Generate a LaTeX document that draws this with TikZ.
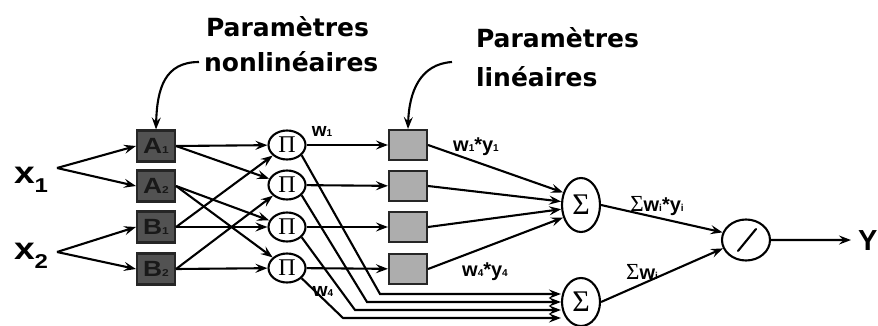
\documentclass[tikz,border=0pt]{standalone}
\usepackage{fontspec}
\usepackage{graphicx}
\setmainfont{Liberation Sans}
\newfontfamily\comic{DejaVu Sans}
\newfontfamily\grk{Liberation Serif}
\usetikzlibrary{arrows.meta,shapes.geometric}
\newcommand{\fs}[1]{\fontsize{#1}{#1}\selectfont}
\newcommand{\wide}[1]{\scalebox{1.2}[1]{#1}}
\begin{document}
\begin{tikzpicture}[x=1pt,y=-1pt,line width=2.1pt,
  arr/.style={-{Stealth[length=12pt,width=9pt,inset=4.5pt]}},
  darkbox/.style={draw=black!85,fill=black!68,minimum width=38pt,minimum height=31pt,inner sep=0pt,text=black!90,font=\bfseries},
  greybox/.style={draw=black!85,fill=black!32,minimum width=38pt,minimum height=30pt,inner sep=0pt},
  prod/.style={ellipse,draw,minimum width=37pt,minimum height=29pt,inner sep=0pt},
  sumn/.style={ellipse,draw,minimum width=38pt,minimum height=54pt,inner sep=0pt},
  lbl/.style={inner sep=0pt,font=\bfseries},
  ann/.style={anchor=base west,inner sep=0pt,font=\comic\bfseries\fs{25}}]
\useasboundingbox (0,0) rectangle (878,326);
\fill[white] (0,0) rectangle (878,326);

% annotation texts
\node[ann] (t1a) at (205,37) {Paramètres};
\node[ann] (t1b) at (203,72) {nonlinéaires};
\node[ann] (t2a) at (475,48) {Paramètres};
\node[ann] (t2b) at (475,87) {linéaires};
\coordinate (k1) at (199,62);
\coordinate (k2) at (452,62);

% inputs
\node[anchor=base west,inner sep=0pt,font=\bfseries] (x1) at (13,183) {\wide{\fs{31}x\raisebox{-9pt}{\fs{20}1}}};
\node[anchor=base west,inner sep=0pt,font=\bfseries] (x2) at (13,259) {\wide{\fs{31}x\raisebox{-9pt}{\fs{20}2}}};
\coordinate (f1) at (57,168);
\coordinate (f2) at (57,252);

% membership boxes
\node[darkbox] (a1) at (156,146) {\wide{\fs{22}A\fs{10}1}};
\node[darkbox] (a2) at (156,186) {\wide{\fs{22}A\fs{10}2}};
\node[darkbox] (b1) at (156,227) {\wide{\fs{22}B\fs{10}1}};
\node[darkbox] (b2) at (156,269) {\wide{\fs{22}B\fs{10}2}};

% product nodes
\node[prod] (p1) at (287,145) {\grk\fs{24}Π};
\node[prod] (p2) at (287,185) {\grk\fs{24}Π};
\node[prod] (p3) at (287,227) {\grk\fs{24}Π};
\node[prod] (p4) at (287,268) {\grk\fs{24}Π};

% linear parameter boxes
\node[greybox] (g1) at (408,145) {};
\node[greybox] (g2) at (408,186) {};
\node[greybox] (g3) at (408,227) {};
\node[greybox] (g4) at (408,269) {};

% sums, division, output
\node[sumn] (s1) at (581,205) {\grk\fs{30}Σ};
\node[sumn,minimum height=48pt] (s2) at (581,302) {\grk\fs{30}Σ};
\node[ellipse,draw,minimum width=48pt,minimum height=41pt] (sl) at (746,240) {};
\draw[line cap=round] (sl.center) ++(-8,11) -- ++(18,-22);
\node[anchor=base west,inner sep=0pt,font=\bfseries] (y) at (857,250) {\fs{29}Y};

% labels
\node[lbl] (w1) at (322,131) {\fs{19}w\fs{10}1};
\node[lbl] (w4) at (323,291) {\fs{19}w\fs{10}4};
\node[lbl] (w1y1) at (476,147) {\fs{20}w\fs{10}1\fs{20}*y\fs{10}1};
\node[lbl] (w4y4) at (485,272) {\fs{20}w\fs{10}4\fs{20}*y\fs{10}4};
\node[lbl] (swy) at (657,206) {{\grk\mdseries\fs{23}Σ}\fs{20}w\fs{10}i\fs{20}*y\fs{10}i};
\node[lbl] (sw) at (642,272) {{\grk\mdseries\fs{23}Σ}\fs{20}w\fs{10}i};

% annotation arrows
\draw[arr] (k1) .. controls (165,62) and (157,88) .. (a1.north);
\draw[arr] (k2) .. controls (420,64) and (409,92) .. (g1.north);

% input forks
\draw[arr] (f1) -- (a1.west);
\draw[arr] (f1) -- (a2.west);
\draw[arr] (f2) -- (b1.west);
\draw[arr] (f2) -- (b2.west);

% memberships to products
\draw[arr] (a1.east) -- (p1);
\draw[arr] (a1.east) -- (p2);
\draw[arr] (a2.east) -- (p3);
\draw[arr] (a2.east) -- (p4);
\draw[arr] (b1.east) -- (p1);
\draw[arr] (b1.east) -- (p3);
\draw[arr] (b2.east) -- (p2);
\draw[arr] (b2.east) -- (p4);

% products to linear boxes
\draw[arr] (p1) -- (g1);
\draw[arr] (p2) -- (g2);
\draw[arr] (p3) -- (g3);
\draw[arr] (p4) -- (g4);

% linear boxes to sum 1
\draw[arr] (g1.east) -- (s1.145);
\draw[arr] (g2.east) -- (s1.170);
\draw[arr] (g3.east) -- (s1.192);
\draw[arr] (g4.east) -- (s1.215);

% products to sum 2
\coordinate (c1) at (380,294);
\coordinate (c2) at (367,302);
\coordinate (c3) at (355,310);
\coordinate (c4) at (343,318);
\draw[arr] (p1.-35) -- (c1) -- (c1 -| s2.west);
\draw[arr] (p2.-35) -- (c2) -- (c2 -| s2.west);
\draw[arr] (p3.-35) -- (c3) -- (c3 -| s2.west);
\draw[arr] (p4.-35) -- (c4) -- (c4 -| s2.west);

% sums to division, output
\draw[arr] (s1.east) -- (sl.162);
\draw[arr] (s2.east) -- (sl.200);
\draw[arr] (sl.east) -- ([xshift=-6pt]y.west);
\end{tikzpicture}
\end{document}
